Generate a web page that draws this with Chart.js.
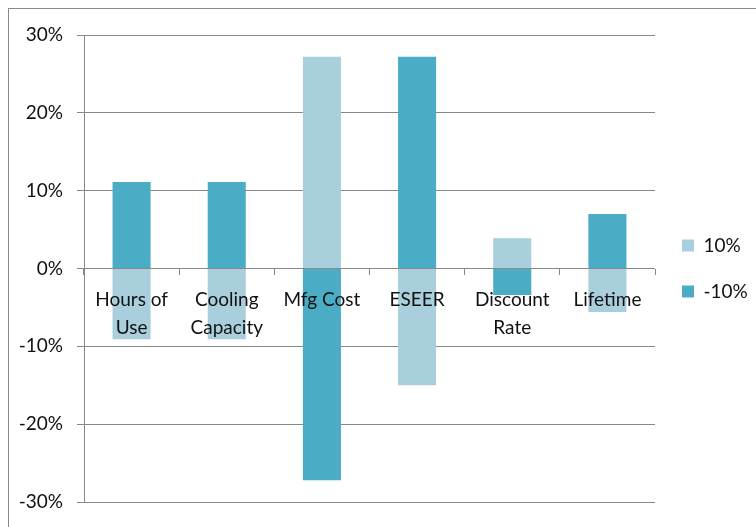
<!DOCTYPE html>
<html>
<head>
<meta charset="utf-8">
<script src="https://cdn.jsdelivr.net/npm/chart.js@4/dist/chart.umd.min.js"></script>
<style>
  html, body { margin: 0; padding: 0; background: #fff; overflow: hidden; }
  #wrap { position: relative; width: 756px; height: 527px; }
  #frame { position: absolute; left: 8px; top: 8px; width: 800px; height: 600px;
           border-top: 1px solid #8a8a8a; border-left: 1px solid #8a8a8a; pointer-events: none; }
  canvas { position: absolute; left: 0; top: 0; }
</style>
</head>
<body>
<div id="wrap">
  <canvas id="chart" width="756" height="527"></canvas>
  <div id="frame"></div>
</div>
<script>
// sensitivity of the result to +/-10% changes in each input
const categories = [['Hours of', 'Use'], ['Cooling', 'Capacity'], 'Mfg Cost', 'ESEER', ['Discount', 'Rate'], 'Lifetime'];
const plus10 = [-9.1, -9.1, 27.2, -15.0, 3.9, -5.6];
const minus10 = [11.1, 11.1, -27.2, 27.2, -3.4, 7.0];
const yTicks = [-30, -20, -10, 0, 10, 20, 30];

const lightBlue = '#A9CFDD';
const darkBlue = '#4BACC6';
const axisGray = '#888888';
const textFont = { family: 'Lato', size: 19, lineHeight: 1.45 };

new Chart(document.getElementById('chart'), {
  type: 'bar',
  data: {
    labels: categories,
    datasets: [
      { label: '10%', data: plus10, backgroundColor: lightBlue, barPercentage: 0.5, categoryPercentage: 0.8 },
      { label: '-10%', data: minus10, backgroundColor: darkBlue, barPercentage: 0.5, categoryPercentage: 0.8 }
    ]
  },
  options: {
    responsive: false,
    animation: false,
    layout: { padding: { top: 35, bottom: 25, left: 0, right: 0 } },
    plugins: {
      tooltip: { enabled: false },
      legend: {
        position: 'right',
        maxWidth: 101,
        labels: {
          boxWidth: 12,
          boxHeight: 12,
          padding: 27,
          color: '#111',
          font: { family: 'Lato', size: 19 }
        }
      }
    },
    scales: {
      x: {
        stacked: true,
        position: { y: 0 },
        border: { display: false },
        grid: { display: true, drawOnChartArea: false, offset: true, tickLength: 6, color: axisGray },
        // labels sit on top of the bars
        ticks: { z: 1, color: '#111', font: textFont, padding: 12, maxRotation: 0, autoSkip: false }
      },
      y: {
        stacked: true,
        min: -30,
        max: 30,
        afterBuildTicks: scale => { scale.ticks = yTicks.map(v => ({ value: v })); },
        afterFit: scale => {
          scale.width = 84;
          // the layout padding already leaves room for the end labels
          scale.paddingTop = 0;
          scale.paddingBottom = 0;
        },
        border: { display: true, color: axisGray },
        grid: { color: axisGray, tickLength: 7 },
        ticks: { color: '#111', font: textFont, padding: 14, callback: v => v + '%' }
      }
    }
  }
});
</script>
</body>
</html>
